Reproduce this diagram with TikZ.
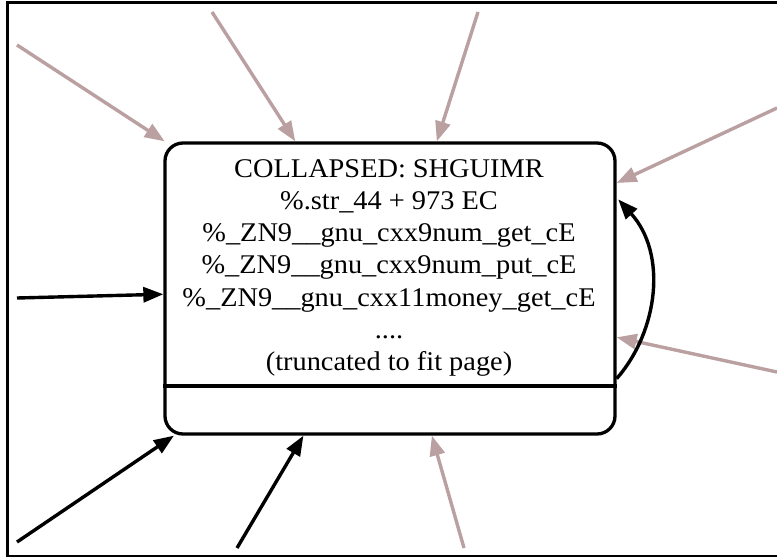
\documentclass[tikz,border=0pt]{standalone}
\usepackage{fontspec}
\setmainfont{Liberation Serif}
\newfontfamily\boxfont[FakeStretch=1.05]{Liberation Serif}
\usetikzlibrary{arrows.meta,calc}
\definecolor{edgegray}{RGB}{186,160,160}
\tikzset{
  collapsed/.style={draw, line width=3.3pt, rounded corners=18pt, inner sep=0pt,
    minimum width=450pt, minimum height=291pt},
  boxline/.style={anchor=base, inner sep=0pt,
    font=\boxfont\fontsize{27}{32.3}\selectfont},
  blackedge/.style={line width=3.4pt, black, -{Triangle[length=20pt,width=15pt]}},
  grayedge/.style={line width=3.4pt, edgegray, -{Triangle[length=20pt,width=15pt]}},
  frameline/.style={line width=2.5pt, black}
}
\begin{document}
\begin{tikzpicture}[x=1pt, y=-1pt]
  \useasboundingbox (0,0) rectangle (777,557);
  \clip (0,0) rectangle (777,557);
  \fill[white] (0,0) rectangle (777,557);
  % outer frame (right side lies beyond the page)
  \draw[frameline] (7.5,2.5) rectangle (790,556);

  % the collapsed record node
  \node[collapsed] (box) at (390,288.5) {};
  \coordinate (div) at (390,386);
  \draw[line width=3.3pt] (box.west |- div) -- (box.east |- div);

  \node[boxline] (l1) at (389,177) {COLLAPSED: SHGUIMR};
  \node[boxline] (l2) at (389,209.3) {\%.str\_44 + 973 EC};
  \node[boxline] (l3) at (389,241.6) {\%\_ZN9\_\_gnu\_cxx9num\_get\_cE};
  \node[boxline] (l4) at (389,273.9) {\%\_ZN9\_\_gnu\_cxx9num\_put\_cE};
  \node[boxline] (l5) at (389,306.2) {\%\_ZN9\_\_gnu\_cxx11money\_get\_cE};
  \node[boxline] (l6) at (389,338.5) {....};
  \node[boxline] (l7) at (389,370.8) {(truncated to fit page)};

  % loose ends of incoming edges
  \coordinate (s1) at (17,45);
  \coordinate (s2) at (212,12);
  \coordinate (s3) at (478,12);
  \coordinate (s4) at (777,108);
  \coordinate (s6) at (777,372);
  \coordinate (s7) at (17,298);
  \coordinate (s8) at (17,542);
  \coordinate (s9) at (237,548);
  \coordinate (s10) at (464,548);

  \draw[grayedge] (s1) -- (box);
  \draw[grayedge] (s2) -- (box);
  \draw[grayedge] (s3) -- (box);
  \draw[grayedge] (s4) -- (box);
  \draw[grayedge] (s6) -- (box);
  \draw[grayedge] (s10) -- (box);
  \draw[blackedge] (s7) -- (box);
  \draw[blackedge] (s8) -- (box);
  \draw[blackedge] (s9) -- (box);

  % self loop on the right side
  \coordinate (loopout) at ($(box.south east)+(0,-57)$);
  \coordinate (loopin) at ($(box.north east)+(1.5,58)$);
  \draw[blackedge] (loopout) .. controls ($(loopout)+(42,-48)$) and ($(loopin)+(49,54)$) .. (loopin);
\end{tikzpicture}
\end{document}
